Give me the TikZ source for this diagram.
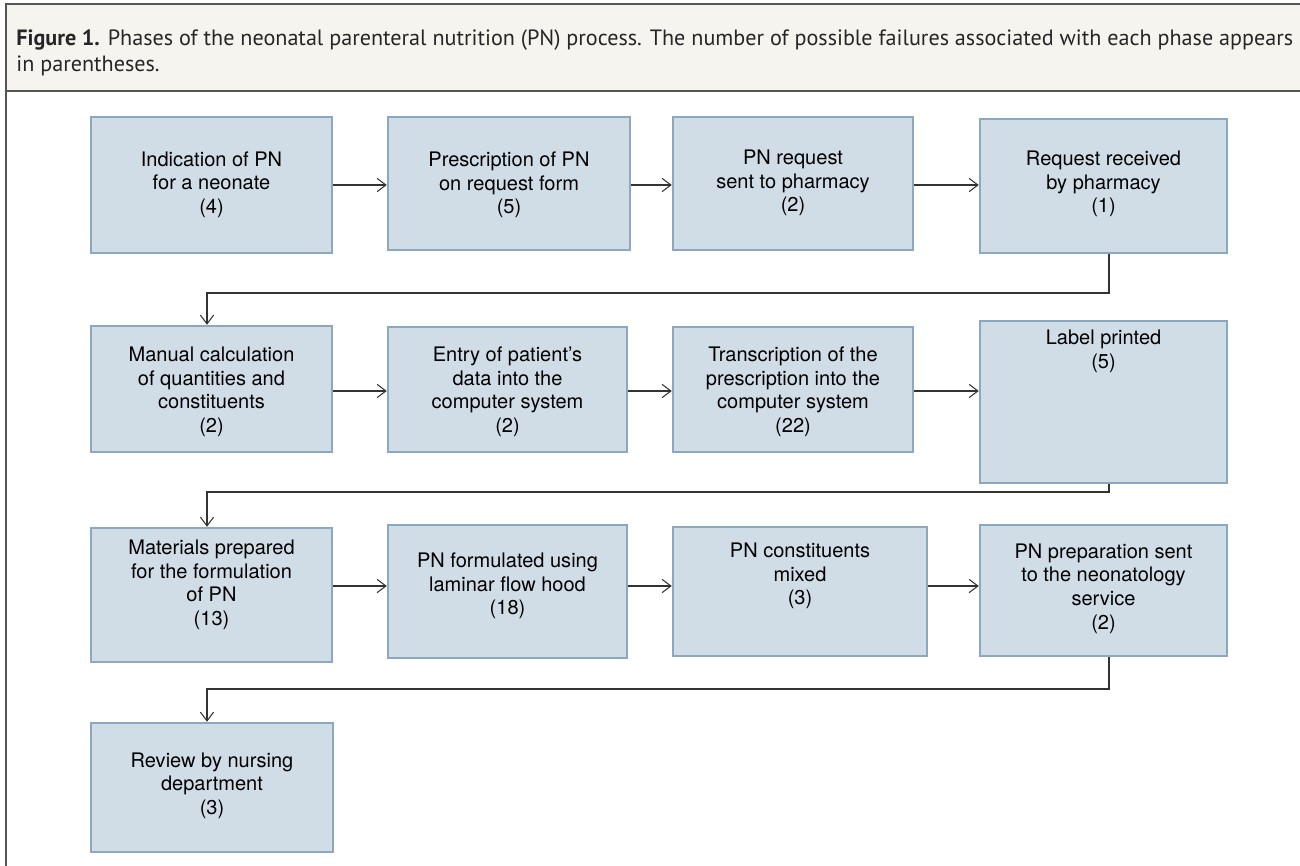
\documentclass[tikz,border=0pt]{standalone}
\usepackage{fontspec}
\setmainfont{TeX Gyre Heros}
\newfontfamily\capfont{PT Sans}
\usetikzlibrary{arrows.meta,calc}
\definecolor{boxfill}{HTML}{D1DDE6}
\definecolor{boxline}{HTML}{8BA8BF}
\definecolor{capbg}{HTML}{F5F4EF}
\definecolor{capline}{HTML}{555555}
\definecolor{arrowc}{HTML}{333333}
\newcommand\phasebox[7]{%
  \node[phase, minimum width={(#4-#2)*0.02cm}, minimum height={(#5-#3)*0.02cm}] (#1) at ({(#2+#4)/2},{(#3+#5)/2}) {};
  \node[phasetext] (#1t) at ({(#2+#4)/2},#6) {#7};}
\begin{document}
\begin{tikzpicture}[x=0.02cm,y=-0.02cm,
  phase/.style={draw=boxline, fill=boxfill, line width=1.4pt, inner sep=0pt},
  phasetext/.style={align=center, inner sep=0pt, text=black, font=\fontsize{11.4}{13.4}\selectfont},
  flow/.style={draw=arrowc, line width=0.6pt, -{Straight Barb[length=5pt,width=7.5pt,line width=0.6pt]}},
  frame/.style={draw=capline, line width=0.8pt}]
\useasboundingbox (0,0) rectangle (1300,865);
% caption
\fill[capbg] (6,4) rectangle (1310,91);
\draw[frame] (1310,4) -- (6,4) -- (6,91) -- (1310,91);
\draw[frame] (6,91) -- (6,870);
\node[anchor=north west, align=left, inner sep=0pt, text=black!85,
  font=\capfont\fontsize{12.6}{15.3}\selectfont] (cap) at (16,29)
  {\textbf{Figure 1.} Phases of the neonatal parenteral nutrition (PN) process. The number of possible failures associated with each phase appears\\in parentheses.};
% row 1
\phasebox{A1}{91}{117}{332}{253}{184.5}{Indication of PN\\for a neonate\\(4)}
\phasebox{A2}{388}{117}{630}{250}{185}{Prescription of PN\\on request form\\(5)}
\phasebox{A3}{673}{117}{913}{250}{183}{PN request\\sent to pharmacy\\(2)}
\phasebox{A4}{980}{119}{1227}{253}{184}{Request received\\by pharmacy\\(1)}
% row 2
\phasebox{B1}{91}{326}{332}{452}{392}{Manual calculation\\of quantities and\\constituents\\(2)}
\phasebox{B2}{388}{327}{627}{452}{392}{Entry of patient's\\data into the\\computer system\\(2)}
\phasebox{B3}{673}{327}{913}{452}{392}{Transcription of the\\prescription into the\\computer system\\(22)}
\phasebox{B4}{980}{321}{1227}{483}{351.5}{Label printed\\(5)}
% row 3
\phasebox{C1}{91}{528}{332}{662}{585}{Materials prepared\\for the formulation\\of PN\\(13)}
\phasebox{C2}{388}{525}{627}{658}{586}{PN formulated using\\laminar flow hood\\(18)}
\phasebox{C3}{673}{527}{927}{656}{576}{PN constituents\\mixed\\(3)}
\phasebox{C4}{980}{525}{1227}{656}{588.5}{PN preparation sent\\to the neonatology\\service\\(2)}
% row 4
\phasebox{D1}{91}{723}{333}{852}{785.5}{Review by nursing\\department\\(3)}
% guide coordinates
\coordinate (r1) at (0,185);
\coordinate (r2) at (0,391);
\coordinate (r3) at (0,586);
\coordinate (k1) at (1109,293);
\coordinate (k1b) at (207,293);
\coordinate (k2) at (1109,492);
\coordinate (k2b) at (207,492);
\coordinate (k3) at (1109,689);
\coordinate (k3b) at (207,689);
% connectors
\draw[flow] (A1.east |- r1) -- (A2.west |- r1);
\draw[flow] (A2.east |- r1) -- (A3.west |- r1);
\draw[flow] (A3.east |- r1) -- (A4.west |- r1);
\draw[flow] (A4.south -| k1) -- (k1) -- (k1b) -- (B1.north -| k1b);
\draw[flow] (B1.east |- r2) -- (B2.west |- r2);
\draw[flow] (B2.east |- r2) -- (B3.west |- r2);
\draw[flow] (B3.east |- r2) -- (B4.west |- r2);
\draw[flow] (B4.south -| k2) -- (k2) -- (k2b) -- (C1.north -| k2b);
\draw[flow] (C1.east |- r3) -- (C2.west |- r3);
\draw[flow] (C2.east |- r3) -- (C3.west |- r3);
\draw[flow] (C3.east |- r3) -- (C4.west |- r3);
\draw[flow] (C4.south -| k3) -- (k3) -- (k3b) -- (D1.north -| k3b);
\end{tikzpicture}
\end{document}
